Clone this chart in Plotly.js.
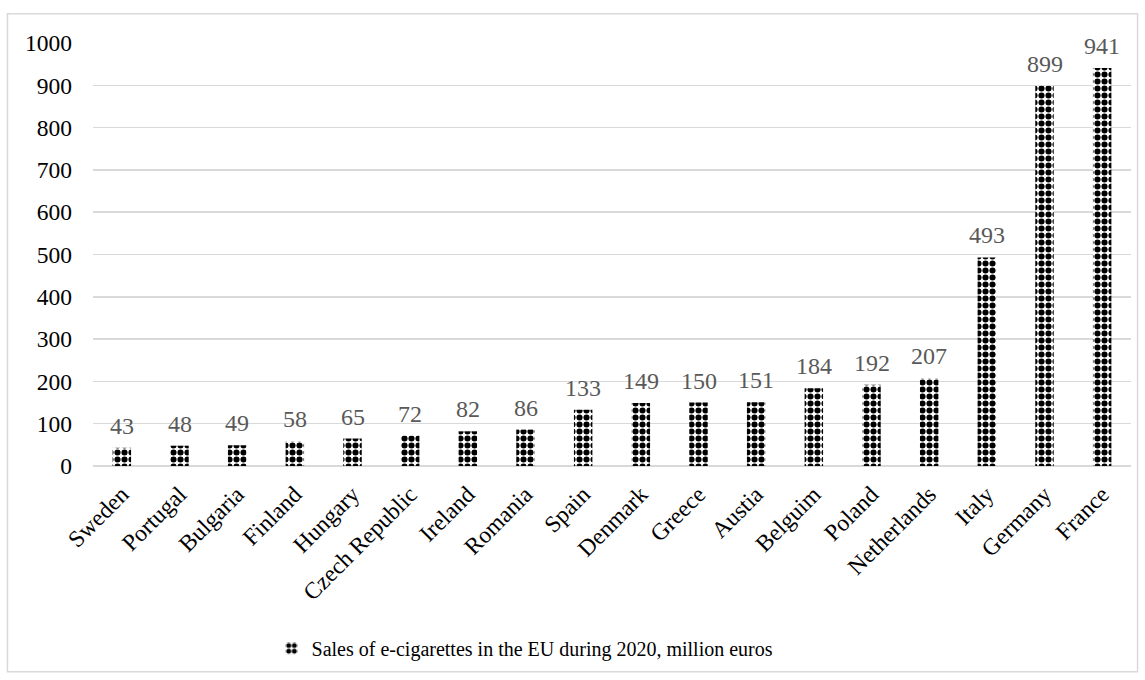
<!DOCTYPE html>
<html>
<head>
<meta charset="utf-8">
<script src="https://cdn.plot.ly/plotly-3.0.1.min.js"></script>
<style>
  html, body { margin: 0; padding: 0; background: #ffffff; }
  #chart { width: 1145px; height: 680px; }
</style>
</head>
<body>
<div id="chart"></div>
<script>
const countries = ["Sweden", "Portugal", "Bulgaria", "Finland", "Hungary", "Czech Republic", "Ireland", "Romania", "Spain", "Denmark", "Greece", "Austia", "Belguim", "Poland", "Netherlands", "Italy", "Germany", "France"];
const sales = [43, 48, 49, 58, 65, 72, 82, 86, 133, 149, 150, 151, 184, 192, 207, 493, 899, 941];
const seriesName = "Sales of e-cigarettes in the EU during 2020, million euros";
const yTicks = [0, 100, 200, 300, 400, 500, 600, 700, 800, 900, 1000];

const FONT = "Liberation Serif";

const trace = {
  type: "bar",
  x: countries,
  y: sales,
  name: seriesName,
  width: 0.32,
  marker: {
    color: "#ffffff",
    line: { width: 0 },
    pattern: { shape: ".", fgcolor: "#000000", bgcolor: "#ffffff", size: 7, solidity: 0.6, fillmode: "replace" }
  },
  hoverinfo: "skip",
  showlegend: true
};

const annotations = countries.map((c, i) => ({
  x: c, y: sales[i], xref: "x", yref: "y",
  text: String(sales[i]),
  showarrow: false,
  yanchor: "middle",
  yshift: 22,
  font: { family: FONT, size: 24, color: "#595959" }
}));

const layout = {
  width: 1145, height: 680,
  margin: { l: 93, r: 14, t: 43, b: 211.5 },
  paper_bgcolor: "#ffffff",
  plot_bgcolor: "#ffffff",
  font: { family: FONT, size: 23, color: "#000000" },
  xaxis: {
    type: "category",
    tickangle: -45,
    showgrid: false,
    showline: false,
    ticks: "",
    ticklabelstandoff: 9,
    tickfont: { family: FONT, size: 23.5, color: "#000000" },
    automargin: false
  },
  yaxis: {
    range: [0, 1000],
    tickvals: yTicks,
    ticktext: yTicks.map(String),
    showgrid: true,
    gridcolor: "#d9d9d9",
    gridwidth: 1.5,
    zeroline: true,
    zerolinecolor: "#d9d9d9",
    zerolinewidth: 1.5,
    showline: false,
    ticks: "",
    ticklabelstandoff: 20,
    tickfont: { family: FONT, size: 23.5, color: "#000000" },
    automargin: false
  },
  showlegend: true,
  legend: {
    orientation: "h",
    x: 0.172, xanchor: "left",
    y: -0.431, yanchor: "middle",
    font: { family: FONT, size: 20, color: "#000000" },
    itemwidth: 30,
    bgcolor: "rgba(0,0,0,0)"
  },
  annotations: annotations,
  shapes: [{
    type: "rect", xref: "paper", yref: "paper",
    x0: -0.0824, x1: 1.0063, y0: -0.4865, y1: 1.0693,
    line: { color: "#d9d9d9", width: 1.5 },
    fillcolor: "rgba(0,0,0,0)",
    layer: "below"
  }]
};

Plotly.newPlot("chart", [trace], layout, { displayModeBar: false, staticPlot: true });
</script>
</body>
</html>
